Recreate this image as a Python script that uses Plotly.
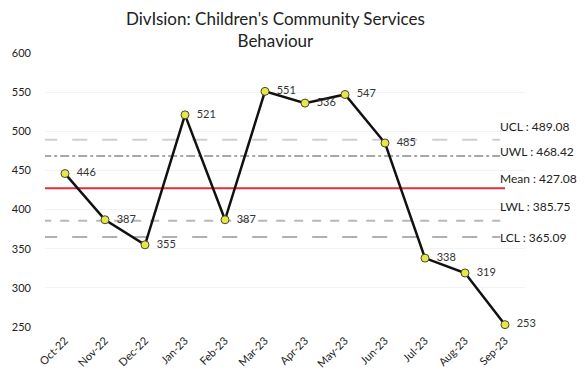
import plotly.graph_objects as go

# Monthly counts and control-limit statistics
months = ["Oct-22", "Nov-22", "Dec-22", "Jan-23", "Feb-23", "Mar-23",
          "Apr-23", "May-23", "Jun-23", "Jul-23", "Aug-23", "Sep-23"]
counts = [446, 387, 355, 521, 387, 551, 536, 547, 485, 338, 319, 253]

limit_names = ["UCL", "UWL", "Mean", "LWL", "LCL"]
limit_values = [489.08, 468.42, 427.08, 385.75, 365.09]

y_ticks = [250, 300, 350, 400, 450, 500, 550, 600]

title_lines = ["DivIsion: Children's Community Services", "Behaviour"]

FONT = "Lato, 'Open Sans', sans-serif"

# styling per limit line: colour, dash, width, label offset (axis units)
limit_styles = {
    "UCL": ("#cfcfcf", "longdash", 2, 17),
    "UWL": ("#a8a8a8", "dashdot", 2, 6),
    "Mean": ("#e0303a", "solid", 2, 12),
    "LWL": ("#b8b8b8", "dash", 2, 18),
    "LCL": ("#b0b0b0", "longdash", 2, -1),
}

x_idx = list(range(len(months)))

fig = go.Figure()

shapes = []
annotations = []
for name, val in zip(limit_names, limit_values):
    color, dash, width, off = limit_styles[name]
    x1 = 11.0 if name == "Mean" else 10.88
    shapes.append(dict(type="line", xref="x", yref="y",
                       x0=-0.57, x1=x1, y0=val, y1=val,
                       line=dict(color=color, width=width, dash=dash),
                       layer="below"))
    annotations.append(dict(xref="x", yref="y", x=10.82, y=val + off,
                            text=f"{name} : {val:.2f}", showarrow=False,
                            xanchor="left", yanchor="middle",
                            font=dict(family=FONT, size=12, color="#222")))

# two-line chart title
annotations.append(dict(xref="paper", yref="paper", x=0.48, y=1.17,
                        xanchor="center", yanchor="top", showarrow=False,
                        text="<br>".join(title_lines), align="center",
                        font=dict(family=FONT, size=17, color="#222")))

fig.add_trace(go.Scatter(
    x=x_idx, y=counts, mode="lines+markers+text",
    line=dict(color="#111111", width=2.5),
    marker=dict(size=8, color="#e6e84a", line=dict(color="#4a4a2a", width=1)),
    text=["  " + str(v) for v in counts], textposition="middle right",
    textfont=dict(family=FONT, size=11, color="#333"),
    cliponaxis=False, showlegend=False,
))

fig.update_layout(
    width=585, height=382,
    margin=dict(l=43, r=60, t=53, b=52),
    paper_bgcolor="white", plot_bgcolor="white",
    shapes=shapes, annotations=annotations,
    showlegend=False,
)
fig.update_xaxes(range=[-0.5, 11.5], tickvals=x_idx, ticktext=months,
                 tickangle=-45, showgrid=False, zeroline=False,
                 showline=False, ticks="", ticklabelstandoff=4,
                 tickfont=dict(family=FONT, size=11, color="#222"))
fig.update_yaxes(range=[250, 600], tickvals=y_ticks, showgrid=True,
                 gridcolor="#f3f3f3", zeroline=False, showline=False,
                 ticks="", ticklabelstandoff=13,
                 tickfont=dict(family=FONT, size=11, color="#222"))

fig.write_html("out.html")
